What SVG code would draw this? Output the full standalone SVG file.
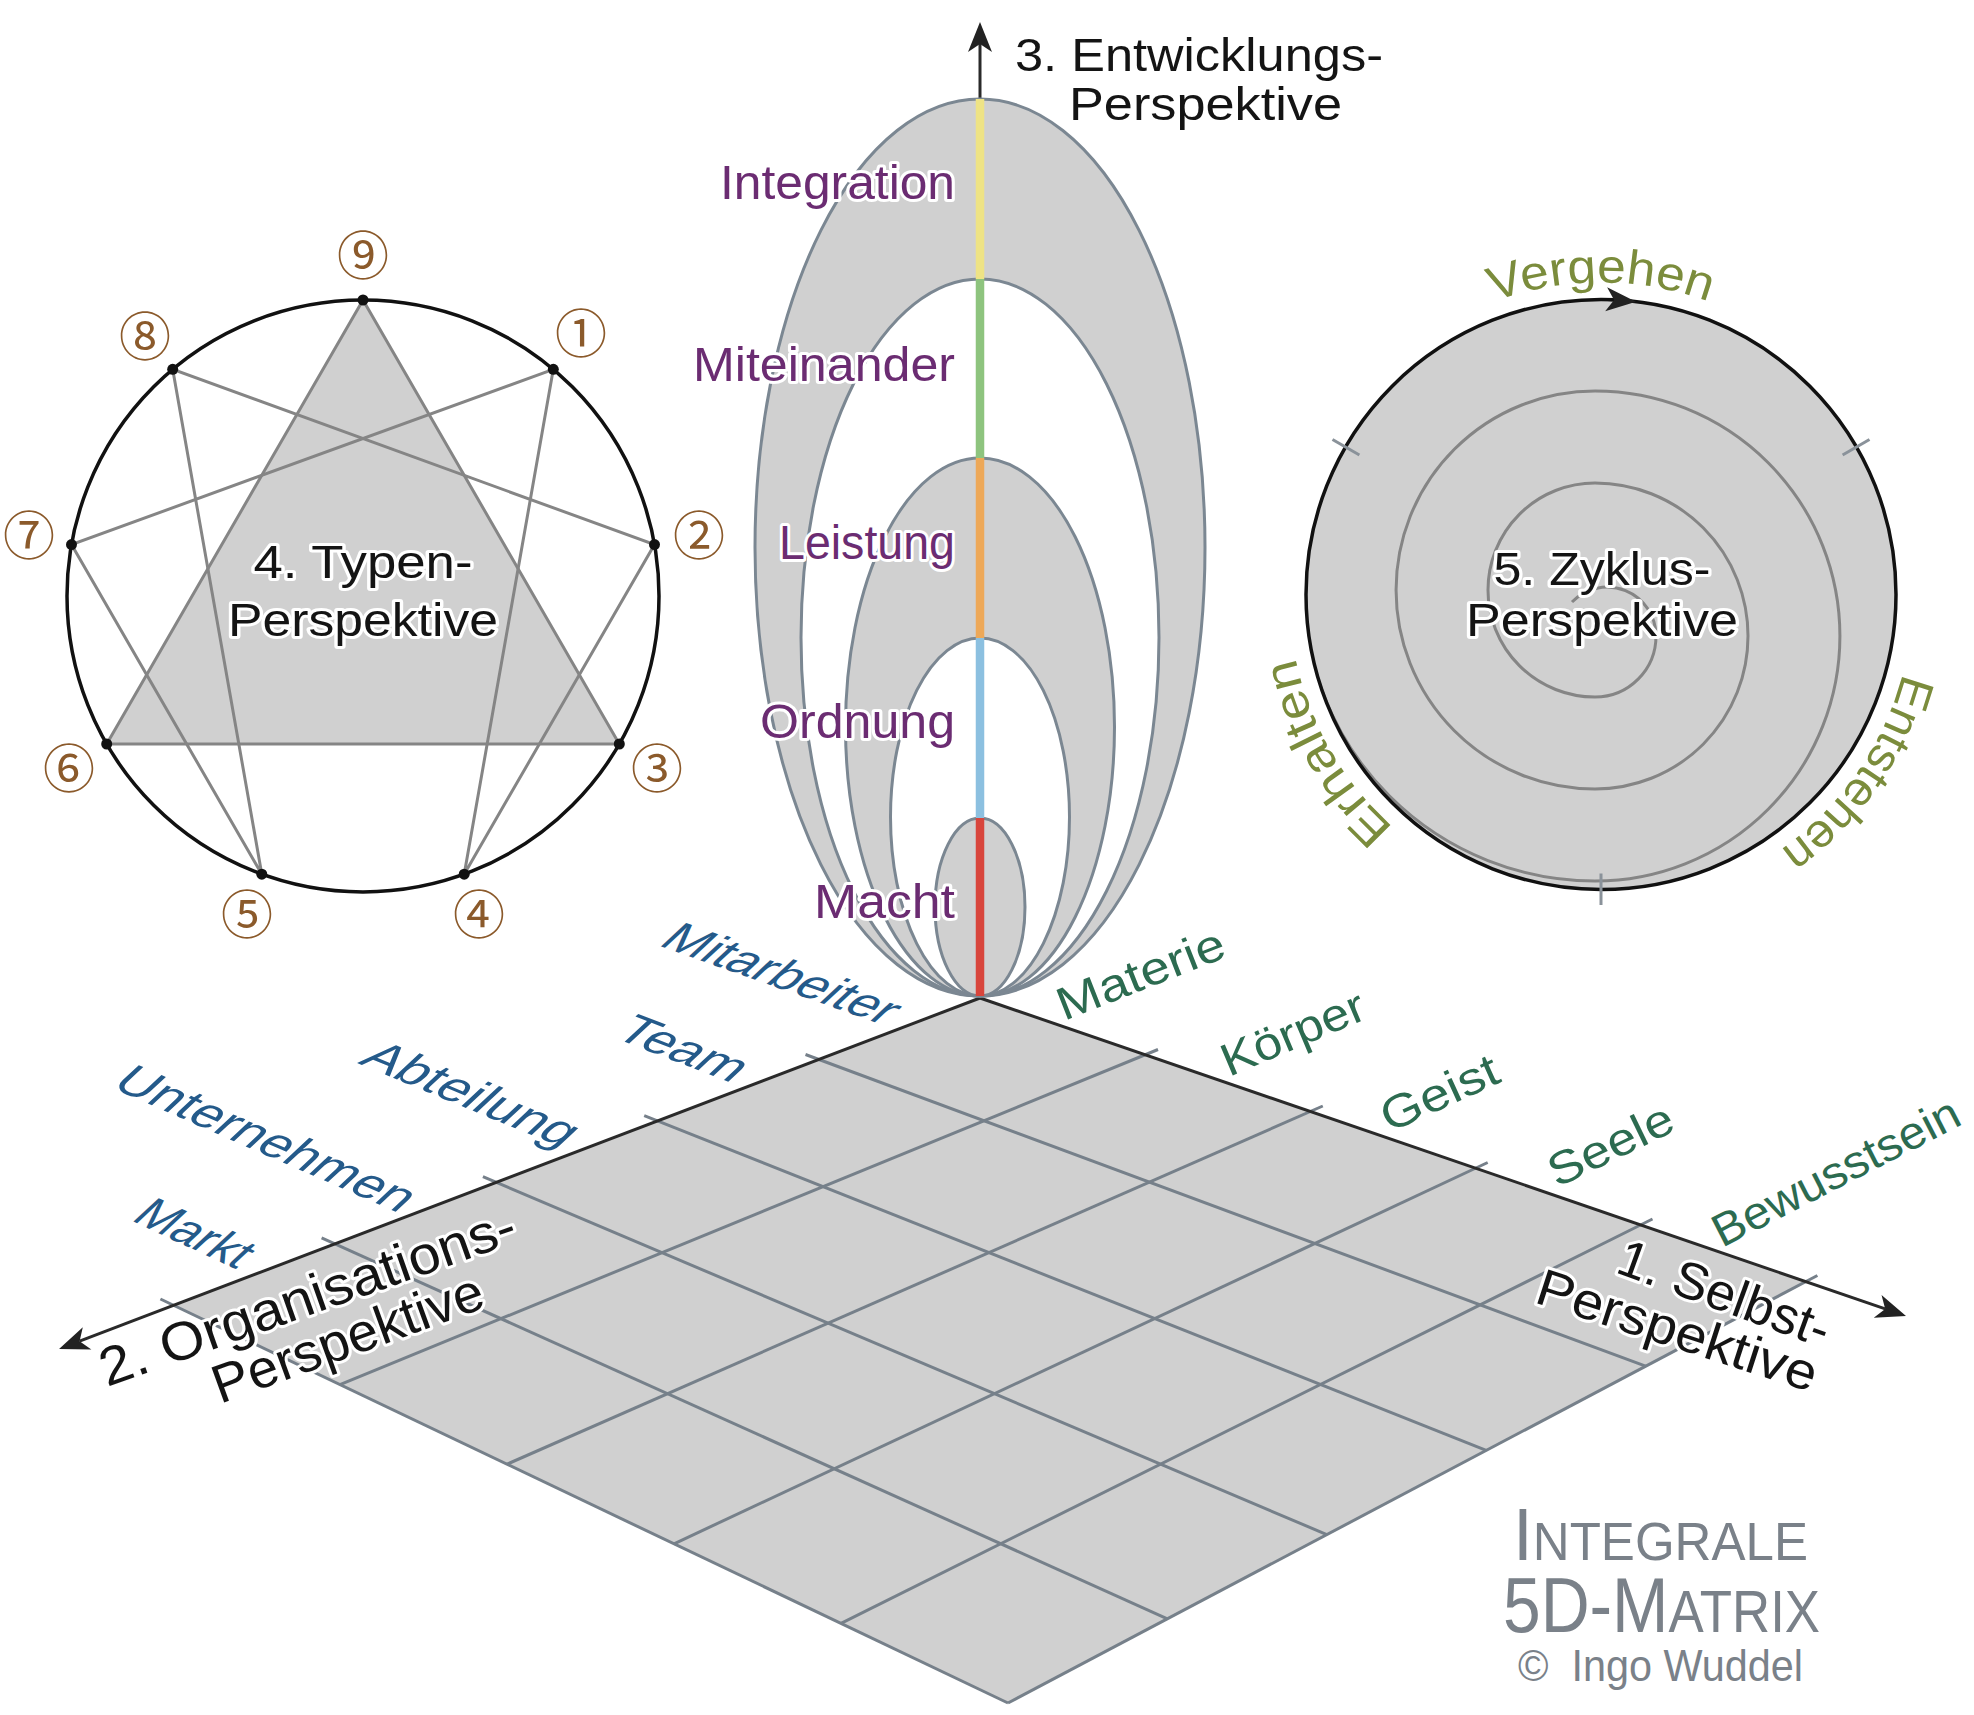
<svg xmlns="http://www.w3.org/2000/svg" width="1974" height="1715" viewBox="0 0 1974 1715">
<style>
text{font-family:"Liberation Sans",Arial,sans-serif}
.halo{stroke:#fff;stroke-width:6;stroke-linejoin:round;paint-order:stroke}
.blk{fill:#141414}
.pur{fill:#6b2c72;font-size:48px}
.blu{fill:#245a8a;font-size:50px}
.grn{fill:#2c6b50;font-size:46px}
.olv{fill:#7b8c3c;font-size:48px}
.num{fill:#8b5a2b;font-size:52px;font-family:"Noto Sans CJK JP","DejaVu Sans",sans-serif}
.ell{stroke:#7b8792;stroke-width:3}
.grid{stroke:#76808a;stroke-width:3;fill:none}
.axis{stroke:#2a2a2a;stroke-width:3;fill:none}
.enn{stroke:#858585;stroke-width:3;fill:none}
.tri{stroke:#858585;stroke-width:3;fill:#d0d0d0}
.dot{fill:#111}
.tick{stroke:#8a929a;stroke-width:3}
.ttl{fill:#7a8189}
</style>
<defs>
<marker id="arr" markerUnits="userSpaceOnUse" viewBox="-10 -14 34 28" markerWidth="34" markerHeight="28" refX="0" refY="0" orient="auto">
<path d="M22,0 L-8,-12 L0,0 L-8,12 Z" fill="#222"/>
</marker>
<clipPath id="zc"><circle cx="1601" cy="594.5" r="294"/></clipPath>
</defs>

<g id="matrix">
<polygon points="980,998 1805,1282 1008,1703 173,1305" fill="#d0d0d0"/>
<g class="grid">
<line x1="1158" y1="1049.5" x2="340" y2="1384.6"/>
<line x1="1322.8" y1="1106" x2="507" y2="1464.2"/>
<line x1="1487.7" y1="1162.5" x2="674" y2="1543.8"/>
<line x1="1652.5" y1="1219" x2="841" y2="1623.4"/>
<line x1="1817.4" y1="1275.5" x2="1008" y2="1703"/>
<line x1="805.5" y1="1054.5" x2="1645.6" y2="1366.2"/>
<line x1="644.2" y1="1115.6" x2="1486.2" y2="1450.4"/>
<line x1="482.9" y1="1176.7" x2="1326.8" y2="1534.6"/>
<line x1="321.6" y1="1237.9" x2="1167.4" y2="1618.8"/>
<line x1="160.4" y1="1299" x2="1008" y2="1703"/>
</g>
</g>

<g id="connectors">
<line class="axis" x1="980" y1="998" x2="1885.2" y2="1308.9" marker-end="url(#arr)"/>
<line class="axis" x1="980" y1="998" x2="79.6" y2="1341.2" marker-end="url(#arr)"/>
<line class="axis" x1="980" y1="99" x2="980" y2="44" marker-end="url(#arr)"/>
</g>

<g id="entwicklung">
<ellipse class="ell" cx="980" cy="547.5" rx="225" ry="448.5" fill="#d0d0d0"/>
<ellipse class="ell" cx="980" cy="637.5" rx="179" ry="358.5" fill="#fff"/>
<ellipse class="ell" cx="980" cy="727" rx="134.5" ry="269" fill="#d0d0d0"/>
<ellipse class="ell" cx="980" cy="817" rx="89.5" ry="179" fill="#fff"/>
<ellipse class="ell" cx="980" cy="907" rx="45" ry="89" fill="#d0d0d0"/>
<g stroke-width="8.5">
<line x1="980" y1="99" x2="980" y2="279" stroke="#eee385"/>
<line x1="980" y1="279" x2="980" y2="458" stroke="#8ec47e"/>
<line x1="980" y1="458" x2="980" y2="638" stroke="#eda858"/>
<line x1="980" y1="638" x2="980" y2="818" stroke="#8cc0e0"/>
<line x1="980" y1="818" x2="980" y2="996" stroke="#d8453c"/>
</g>
<g text-anchor="end">
<text class="pur halo" x="955" y="199" textLength="235" lengthAdjust="spacingAndGlyphs">Integration</text>
<text class="pur halo" x="955" y="381" textLength="262" lengthAdjust="spacingAndGlyphs">Miteinander</text>
<text class="pur halo" x="955" y="559" textLength="176" lengthAdjust="spacingAndGlyphs">Leistung</text>
<text class="pur halo" x="955" y="738" textLength="195" lengthAdjust="spacingAndGlyphs">Ordnung</text>
<text class="pur halo" x="955" y="918" textLength="141" lengthAdjust="spacingAndGlyphs">Macht</text>
</g>
<text class="blk" font-size="46" x="1015" y="71" textLength="368" lengthAdjust="spacingAndGlyphs">3. Entwicklungs-</text>
<text class="blk" font-size="46" x="1069" y="120" textLength="273" lengthAdjust="spacingAndGlyphs">Perspektive</text>
</g>

<g id="typen">
<circle cx="363" cy="596" r="296" fill="#fff" stroke="#111" stroke-width="3.5"/>
<polygon class="tri" points="363,300 619.3,744 106.7,744"/>
<polyline class="enn" points="553.3,369.3 464.2,874.2 654.5,544.6 172.7,369.3 261.8,874.2 71.5,544.6 553.3,369.3"/>
<g class="dot">
<circle cx="363" cy="300" r="5.5"/><circle cx="553.3" cy="369.3" r="5.5"/><circle cx="654.5" cy="544.6" r="5.5"/>
<circle cx="619.3" cy="744" r="5.5"/><circle cx="464.2" cy="874.2" r="5.5"/><circle cx="261.8" cy="874.2" r="5.5"/>
<circle cx="106.7" cy="744" r="5.5"/><circle cx="71.5" cy="544.6" r="5.5"/><circle cx="172.7" cy="369.3" r="5.5"/>
</g>
<g text-anchor="middle" dominant-baseline="central">
<text class="num" x="363" y="252">⑨</text>
<text class="num" x="581" y="330">①</text>
<text class="num" x="699" y="532">②</text>
<text class="num" x="657" y="765">③</text>
<text class="num" x="479" y="911">④</text>
<text class="num" x="247" y="911">⑤</text>
<text class="num" x="69" y="765">⑥</text>
<text class="num" x="29" y="532">⑦</text>
<text class="num" x="145" y="333">⑧</text>
</g>
<text class="blk halo" font-size="46" x="363" y="578" text-anchor="middle" textLength="219" lengthAdjust="spacingAndGlyphs">4. Typen-</text>
<text class="blk halo" font-size="46" x="363" y="636" text-anchor="middle" textLength="270" lengthAdjust="spacingAndGlyphs">Perspektive</text>
</g>

<g id="zyklus">
<circle cx="1601" cy="594.5" r="295" fill="#d0d0d0"/>
<path clip-path="url(#zc)" d="M1572,602 A48.9,48.9 0 0 1 1656,636 A61,61 0 0 1 1595,697 A107,107 0 0 1 1595,483 A153,153 0 0 1 1595,789 A199,199 0 0 1 1595,391 A245,245 0 0 1 1595,881 A291,291 0 0 1 1304,590" fill="none" stroke="#858585" stroke-width="3"/>
<circle cx="1601" cy="594.5" r="295" fill="none" stroke="#111" stroke-width="3.5"/>
<line class="tick" x1="1332.5" y1="439.5" x2="1359.4" y2="455"/>
<line class="tick" x1="1869.5" y1="439.5" x2="1842.6" y2="455"/>
<line class="tick" x1="1601" y1="873.5" x2="1601" y2="905"/>
<path d="M1608,299.4 L1614.1,299.9" stroke="#111" stroke-width="3" marker-end="url(#arr)"/>
<path id="pv" d="M1330.8,438.5 A312,312 0 0 1 1871.2,438.5" fill="none"/>
<path id="pe" d="M1871.2,438.5 A312,312 0 0 1 1601,906.5" fill="none"/>
<path id="ph" d="M1601,906.5 A312,312 0 0 1 1330.8,438.5" fill="none"/>
<text class="olv" text-anchor="middle"><textPath href="#pv" startOffset="50%" textLength="220" lengthAdjust="spacingAndGlyphs">Vergehen</textPath></text>
<text class="olv" text-anchor="middle"><textPath href="#pe" startOffset="54%" textLength="220" lengthAdjust="spacingAndGlyphs">Entstehen</textPath></text>
<text class="olv" text-anchor="middle"><textPath href="#ph" startOffset="50%" textLength="200" lengthAdjust="spacingAndGlyphs">Erhalten</textPath></text>
<text class="blk halo" font-size="46" x="1602" y="585" text-anchor="middle" textLength="217" lengthAdjust="spacingAndGlyphs">5. Zyklus-</text>
<text class="blk halo" font-size="46" x="1602" y="636" text-anchor="middle" textLength="272" lengthAdjust="spacingAndGlyphs">Perspektive</text>
</g>

<g id="organisation-labels">
<text class="blu" transform="matrix(0.9426 0.3338 -0.731 0.682 657 945)" textLength="240" lengthAdjust="spacingAndGlyphs">Mitarbeiter</text>
<text class="blu" transform="matrix(0.9336 0.3584 -0.731 0.682 612 1037)" textLength="128" lengthAdjust="spacingAndGlyphs">Team</text>
<text class="blu" transform="matrix(0.9245 0.3811 -0.731 0.682 357 1063)" textLength="222" lengthAdjust="spacingAndGlyphs">Abteilung</text>
<text class="blu" transform="matrix(0.9164 0.4003 -0.731 0.682 110 1087)" textLength="315" lengthAdjust="spacingAndGlyphs">Unternehmen</text>
<text class="blu" transform="matrix(0.9070 0.4210 -0.731 0.682 130 1220)" textLength="117" lengthAdjust="spacingAndGlyphs">Markt</text>
<text class="blk halo" font-size="54" transform="translate(107,1387) rotate(-19.5)" textLength="438" lengthAdjust="spacingAndGlyphs">2. Organisations-</text>
<text class="blk halo" font-size="54" transform="translate(220,1404) rotate(-20)" textLength="285" lengthAdjust="spacingAndGlyphs">Perspektive</text>
</g>

<g id="selbst-labels">
<text class="grn" transform="translate(1064,1021) rotate(-21.5)" textLength="177" lengthAdjust="spacingAndGlyphs">Materie</text>
<text class="grn" transform="translate(1229,1077) rotate(-23)" textLength="152" lengthAdjust="spacingAndGlyphs">Körper</text>
<text class="grn" transform="translate(1389,1133) rotate(-24.4)" textLength="125" lengthAdjust="spacingAndGlyphs">Geist</text>
<text class="grn" transform="translate(1557,1188) rotate(-25.8)" textLength="134" lengthAdjust="spacingAndGlyphs">Seele</text>
<text class="grn" transform="translate(1722,1248) rotate(-27.2)" textLength="272" lengthAdjust="spacingAndGlyphs">Bewusstsein</text>
<text class="blk halo" font-size="52" transform="translate(1614,1272) rotate(20)" textLength="222" lengthAdjust="spacingAndGlyphs">1. Selbst-</text>
<text class="blk halo" font-size="52" transform="translate(1533,1302) rotate(18)" textLength="292" lengthAdjust="spacingAndGlyphs">Perspektive</text>
</g>

<g id="title" class="ttl">
<text x="1513" y="1560" textLength="295" lengthAdjust="spacingAndGlyphs"><tspan font-size="74">I</tspan><tspan font-size="53">NTEGRALE</tspan></text>
<text x="1503" y="1632" textLength="317" lengthAdjust="spacingAndGlyphs"><tspan font-size="77">5D-M</tspan><tspan font-size="60">ATRIX</tspan></text>
<text x="1518" y="1681" font-size="44" textLength="285" lengthAdjust="spacingAndGlyphs">©&#160; Ingo Wuddel</text>
</g>
</svg>
